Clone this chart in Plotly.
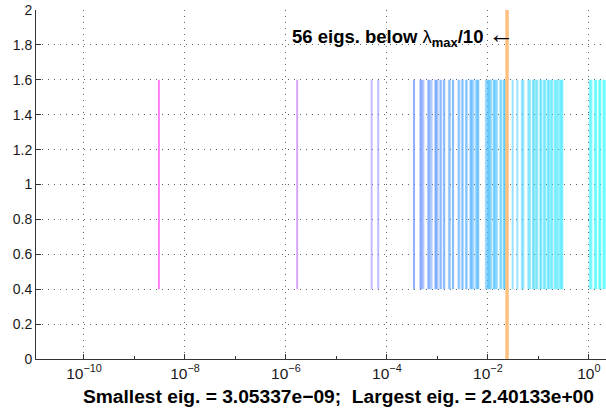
import numpy as np
import plotly.graph_objects as go

# Eigenvalues of the system, ascending
eigs = [
    3.05337e-09, 1.67e-06, 4.98e-05, 6.73e-05,
    3.43e-04, 3.45e-04, 4.61e-04, 4.70e-04, 4.93e-04, 5.28e-04,
    6.64e-04, 6.70e-04, 7.10e-04, 7.67e-04, 9.12e-04, 9.30e-04,
    9.55e-04, 1.01e-03, 1.14e-03, 1.19e-03, 1.35e-03, 1.37e-03,
    1.69e-03, 1.77e-03, 2.03e-03, 2.05e-03, 2.61e-03, 2.73e-03,
    3.13e-03, 3.15e-03, 3.67e-03, 3.84e-03, 4.50e-03, 4.65e-03,
    4.82e-03, 5.16e-03, 5.78e-03, 6.19e-03, 6.30e-03, 6.48e-03,
    9.12e-03, 9.77e-03, 1.02e-02, 1.05e-02, 1.10e-02, 1.17e-02,
    1.31e-02, 1.35e-02, 1.41e-02, 1.51e-02, 1.77e-02, 1.85e-02,
    2.07e-02, 2.12e-02, 2.22e-02, 2.32e-02,
    3.10e-02, 3.84e-02, 4.71e-02, 5.05e-02, 6.34e-02, 6.79e-02,
    7.78e-02, 8.15e-02, 8.92e-02, 9.55e-02, 0.1096, 0.1147,
    0.1285, 0.1377, 0.1542, 0.1615, 0.1770, 0.1894, 0.2123,
    0.2272, 0.2433, 0.2666, 0.2853, 0.2987,
    1.047, 1.121, 1.315, 1.408, 1.614, 1.689, 1.937, 2.074, 2.40133,
]
threshold = 0.0240133

# Stick extent
stick_lo, stick_hi = 0.4, 1.6

# Axis ticks
x_tickvals = [1e-10, 1e-8, 1e-6, 1e-4, 1e-2, 1e0]
x_ticktext = ["10<sup>\u221210</sup>", "10<sup>\u22128</sup>", "10<sup>\u22126</sup>",
              "10<sup>\u22124</sup>", "10<sup>\u22122</sup>", "10<sup>0</sup>"]
y_tickvals = [0, 0.2, 0.4, 0.6, 0.8, 1, 1.2, 1.4, 1.6, 1.8, 2]

lam_min, lam_max = min(eigs), max(eigs)
n_below = sum(1 for e in eigs if e < threshold)

fig = go.Figure()

# One stick per eigenvalue, coloured along the reversed "cool" map by log magnitude
lo, hi = np.log10(lam_min), np.log10(lam_max)
for e in eigs:
    t = (np.log10(e) - lo) / (hi - lo)
    r, g, b = int(round(255 * (1 - t))), int(round(255 * t)), 255
    fig.add_trace(go.Scatter(
        x=[e, e], y=[stick_lo, stick_hi], mode="lines",
        line=dict(color=f"rgba({r},{g},{b},0.5)", width=2),
        hoverinfo="skip", showlegend=False,
    ))

# Threshold marker
fig.add_trace(go.Scatter(
    x=[threshold, threshold], y=[0, 2], mode="lines",
    line=dict(color="rgb(255,192,128)", width=3.5),
    hoverinfo="skip", showlegend=False,
))

font_main = "Liberation Sans, Arial, sans-serif"

fig.add_annotation(
    xref="paper", yref="y", x=0.4456, y=1.86, xanchor="left", yanchor="middle",
    text=(f"<b>{n_below} eigs. below </b>\u03bb<b><sub>max</sub>/10</b> "
          "<span style='font-size:26px'>\u2190</span>"),
    showarrow=False, font=dict(family=font_main, size=18.5, color="black"),
)

fig.add_annotation(
    xref="paper", yref="paper", x=0.53, y=-0.108, xanchor="center", yanchor="middle",
    text="<b>Smallest eig. = 3.05337e\u221209;\u00a0 Largest eig. = 2.40133e+00</b>",
    showarrow=False, font=dict(family=font_main, size=19.2, color="black"),
)

fig.update_layout(
    width=606, height=412,
    margin=dict(l=36, r=0, t=10, b=53),
    paper_bgcolor="white", plot_bgcolor="white",
    font=dict(family=font_main, size=14, color="#1a1a1a"),
    xaxis=dict(
        type="log", range=[-10.95, 0.34],
        tickmode="array", tickvals=x_tickvals, ticktext=x_ticktext,
        ticks="inside", ticklen=5, tickcolor="#333",
        tickfont=dict(size=15.5),
        showline=True, linecolor="#333", linewidth=1, mirror=False,
        showgrid=True, gridcolor="#666", griddash="1px,5px", gridwidth=1,
        zeroline=False,
        minor=dict(ticks="inside", ticklen=3, tickcolor="#333", dtick=1, showgrid=False),
    ),
    yaxis=dict(
        range=[0, 2], tickmode="array", tickvals=y_tickvals,
        ticks="inside", ticklen=5, tickcolor="#333",
        showline=True, linecolor="#333", linewidth=1, mirror=False,
        showgrid=True, gridcolor="#666", griddash="1px,5px", gridwidth=1,
        zeroline=False,
    ),
)

fig.write_html("out.html")
